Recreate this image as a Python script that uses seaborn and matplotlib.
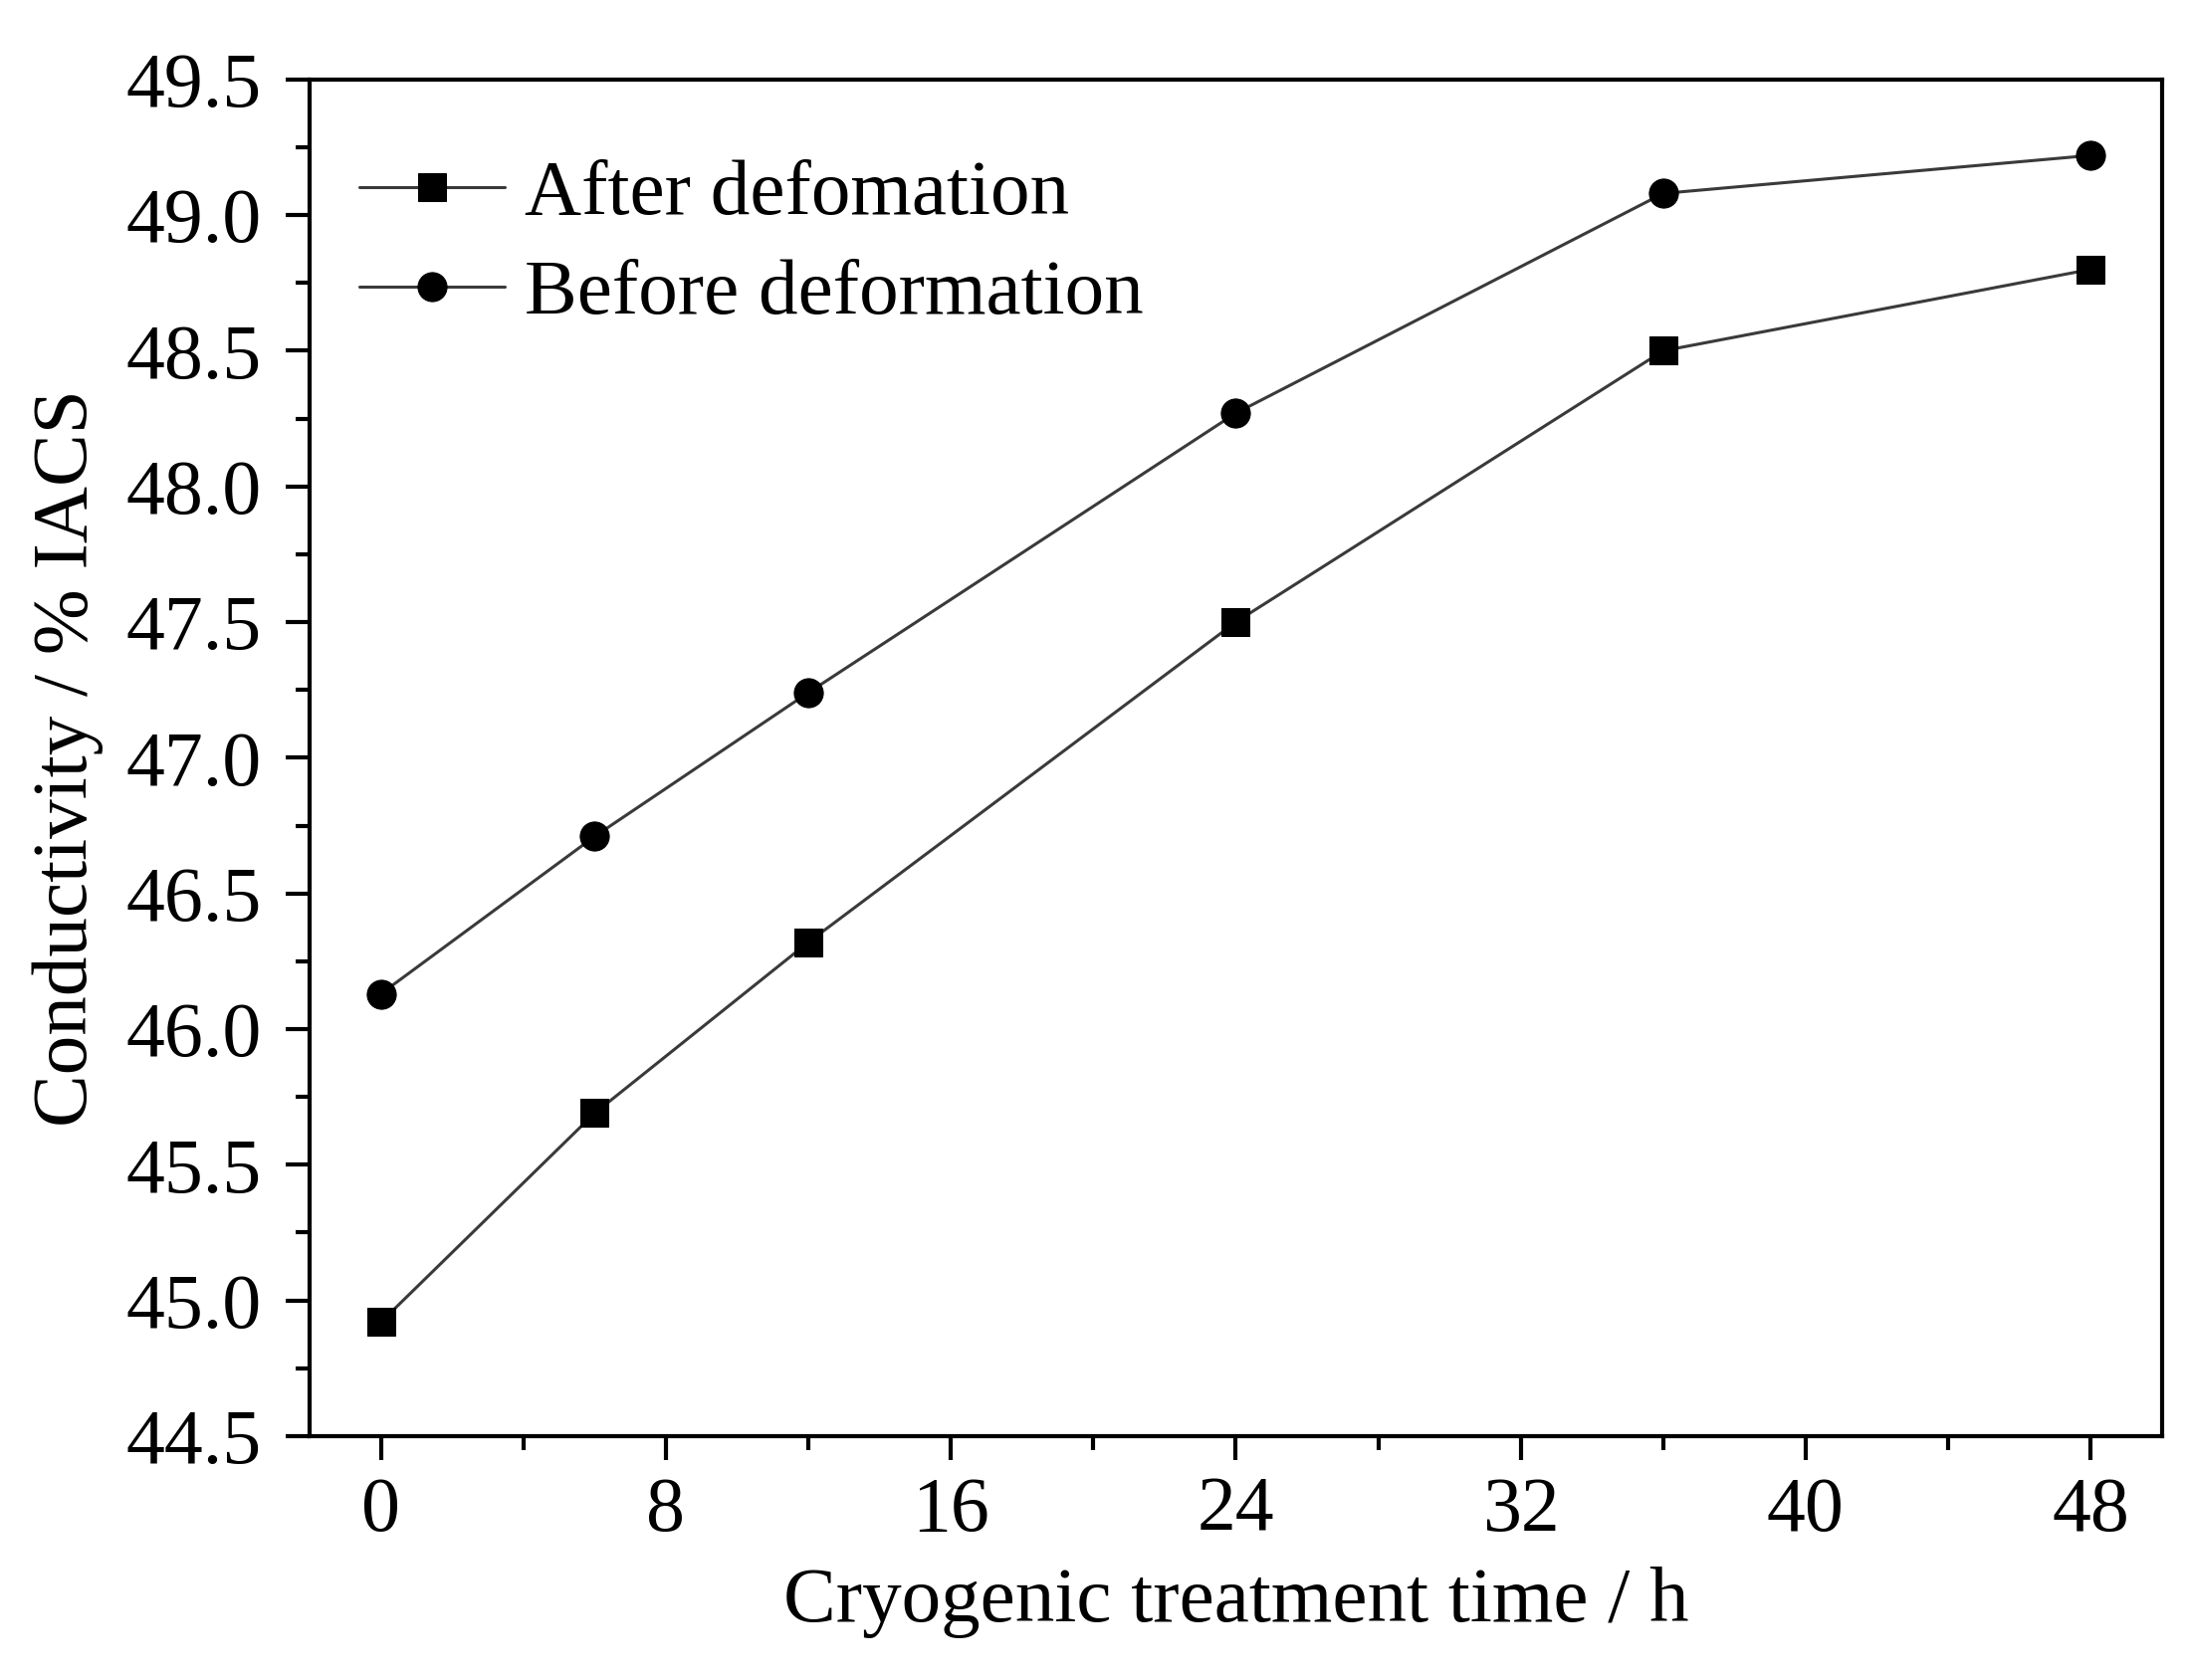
import pandas as pd
import matplotlib.pyplot as plt
import seaborn as sns

# cryogenic treatment time (h) and conductivity (% IACS)
hours = [0, 6, 12, 24, 36, 48]
after_deform = [44.92, 45.69, 46.32, 47.50, 48.50, 48.80]
before_deform = [46.13, 46.71, 47.24, 48.27, 49.08, 49.22]
x_ticks = [0, 8, 16, 24, 32, 40, 48]
y_ticks = [44.5, 45.0, 45.5, 46.0, 46.5, 47.0, 47.5, 48.0, 48.5, 49.0, 49.5]

df_after = pd.DataFrame({'Time': hours, 'Conductivity': after_deform})
df_before = pd.DataFrame({'Time': hours, 'Conductivity': before_deform})

sns.set_style('ticks')
plt.rcParams['font.family'] = ['Liberation Serif', 'DejaVu Serif']
plt.rcParams['text.color'] = 'black'
plt.rcParams['axes.labelcolor'] = 'black'

fig = plt.figure(figsize=(21.97, 16.88), dpi=100)
ax = fig.add_axes([0.1416, 0.1452, 0.8469, 0.8075])

sns.lineplot(x='Time', y='Conductivity', data=df_after, ax=ax, marker='s',
             markersize=20, color='#3a3a3a', linewidth=2.2,
             markerfacecolor='black', markeredgecolor='black',
             label='After defomation')
sns.lineplot(x='Time', y='Conductivity', data=df_before, ax=ax, marker='o',
             markersize=21, color='#3a3a3a', linewidth=2.2,
             markerfacecolor='black', markeredgecolor='black',
             label='Before deformation')

ax.set_xlim(-2, 50)
ax.set_ylim(44.5, 49.5)
ax.set_xticks(x_ticks)
ax.set_yticks(y_ticks)
ax.set_xticks([4, 12, 20, 28, 36, 44], minor=True)
ax.set_yticks([44.75 + 0.5 * i for i in range(10)], minor=True)
ax.set_yticklabels([f'{v:.1f}' for v in y_ticks])

for side in ['top', 'right', 'bottom', 'left']:
    ax.spines[side].set_linewidth(3)
    ax.spines[side].set_color('black')

ax.tick_params(axis='both', which='major', direction='out', length=17,
               width=3, labelsize=56, colors='black')
ax.tick_params(axis='both', which='minor', direction='out', length=10,
               width=3, colors='black')
ax.tick_params(axis='x', which='major', pad=12)
ax.tick_params(axis='y', which='major', pad=18)
ax.tick_params(top=False, right=False, which='both')

ax.set_xlabel('Cryogenic treatment time / h', fontsize=57, labelpad=14)
ax.set_ylabel('Conductivity / % IACS', fontsize=57, labelpad=16)

leg = ax.legend(loc='upper left', frameon=False, fontsize=57,
                handlelength=1.85, handletextpad=0.25, labelspacing=0.35,
                borderaxespad=0.3, bbox_to_anchor=(-0.003, 0.982))

fig.savefig('out.png', dpi=100)
